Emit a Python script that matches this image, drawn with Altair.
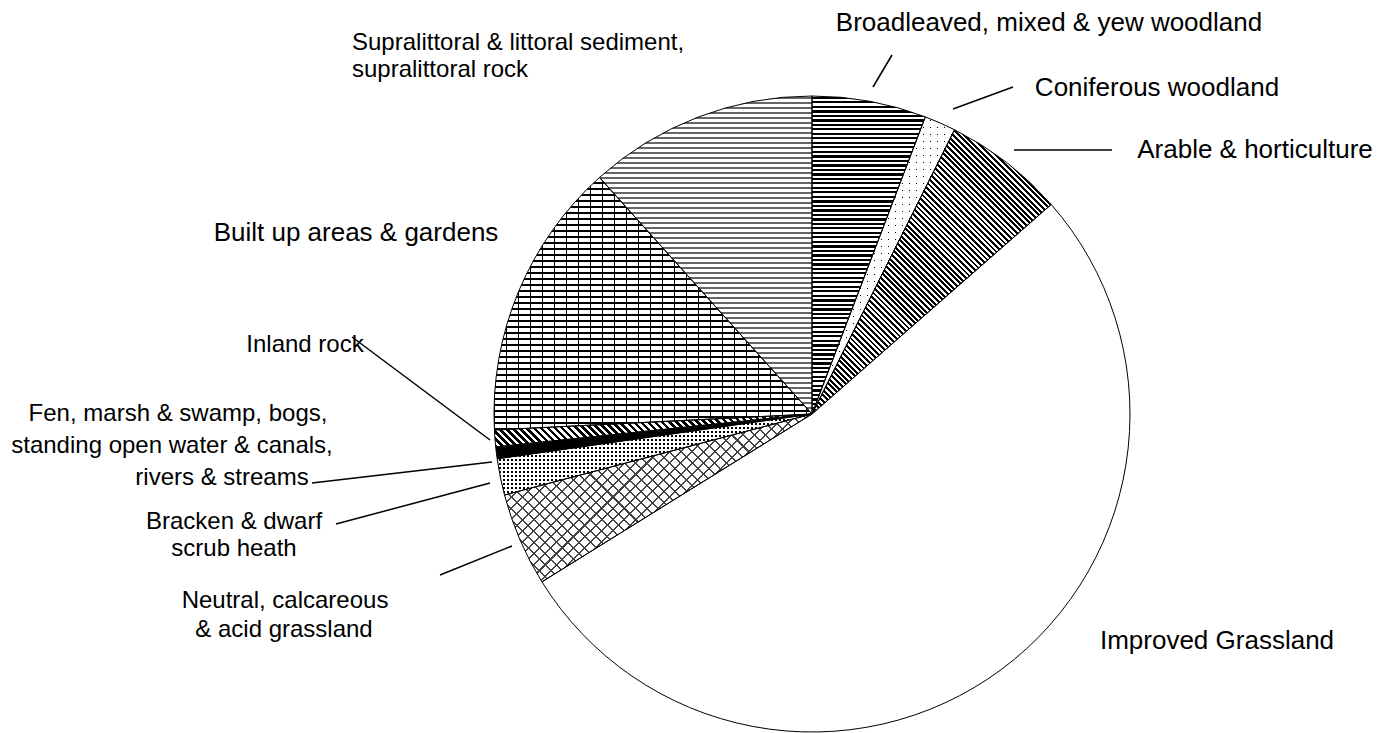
import math
import altair as alt
import pandas as pd

# ---------------- data ----------------
categories = [
    "Broadleaved, mixed & yew woodland",
    "Coniferous woodland",
    "Arable & horticulture",
    "Improved Grassland",
    "Neutral, calcareous & acid grassland",
    "Bracken & dwarf scrub heath",
    "Fen, marsh & swamp, bogs, standing open water & canals, rivers & streams",
    "Inland rock",
    "Built up areas & gardens",
    "Supralittoral & littoral sediment, supralittoral rock",
]
shares = [5.8, 1.6, 6.15, 52.6, 4.75, 1.85, 0.6, 0.85, 14.15, 11.65]

# label lines (text, anchor x, anchor y in page px, font size) and leader lines
label_text = [
    "Broadleaved, mixed & yew woodland", "Coniferous woodland", "Arable & horticulture",
    "Built up areas & gardens", "Inland rock",
    "Fen, marsh & swamp, bogs,", "standing open water & canals,", "rivers & streams",
    "Bracken & dwarf", "scrub heath", "Neutral, calcareous", "& acid grassland",
    "Improved Grassland",
]
label_x = [1049, 1157, 1255, 356, 305, 178, 172, 222, 234, 234, 285, 284, 1217]
label_y = [23, 88, 150, 233, 345, 414, 446, 478, 522, 549, 601, 630, 641]
label_fs = [26, 26, 26, 26, 24, 24, 24, 24, 24, 24, 24, 24, 26]

left_text = ["Supralittoral & littoral sediment,", "supralittoral rock"]
left_x = [352, 352]
left_y = [43, 70]
left_fs = [24, 24]

leader_x1 = [873, 953, 1014, 352, 312, 336, 440]
leader_y1 = [87, 109, 150, 337, 483, 524, 575]
leader_x2 = [892, 1013, 1112, 490, 492, 490, 512]
leader_y2 = [55, 87, 150, 440, 462, 483, 546]

# ---------------- layout / style ----------------
OFF = 8
CX, CY, R = 812 - OFF, 414 - OFF, 318
FONT = "Liberation Sans"


def slice_bbox(a0, a1):
    pts = [(0.0, 0.0)]
    for a in (a0, a1):
        r = math.radians(a)
        pts.append((R * math.sin(r), -R * math.cos(r)))
    for c in (0, 90, 180, 270, 360):
        if a0 < c < a1:
            r = math.radians(c)
            pts.append((R * math.sin(r), -R * math.cos(r)))
    xs = [p[0] for p in pts]
    ys = [p[1] for p in pts]
    return max(xs) - min(xs), max(ys) - min(ys)


def stripes(bw, bh, lx, ly, period, duty, on, off):
    gx, gy = ly / bh, -lx / bw
    corners = [(0, 0), (1, 0), (0, 1), (1, 1)]
    ts = [c[0] * gx + c[1] * gy for c in corners]
    p1 = corners[ts.index(min(ts))]
    pm = corners[ts.index(max(ts))]
    g2 = gx * gx + gy * gy
    s = ((pm[0] - p1[0]) * gx + (pm[1] - p1[1]) * gy) / g2
    x2, y2 = p1[0] + s * gx, p1[1] + s * gy
    L = math.hypot(lx, ly)
    nx, ny = -ly / L, lx / L
    E = abs(bw * nx) + abs(bh * ny)
    step = period / E
    stops = []
    t = 0.0
    while t < 1:
        b = min(t + duty * step, 1)
        c = min(t + step, 1)
        stops += [(t, on), (b, on), (b, off), (c, off)]
        t += step
    return {
        "gradient": "linear",
        "x1": p1[0], "y1": p1[1], "x2": x2, "y2": y2,
        "stops": [{"offset": round(o, 5), "color": col} for o, col in stops],
    }


T = "rgba(255,255,255,0)"


def patterns(name, bw, bh):
    if name.startswith("Broadleaved"):
        return [stripes(bw, bh, 1, 0, 4.5, 0.5, "black", "white")]
    if name.startswith("Coniferous"):
        return ["black",
                stripes(bw, bh, 1, 0, 7, 0.82, "white", T),
                stripes(bw, bh, 0, 1, 7, 0.82, "white", T)]
    if name.startswith("Arable"):
        return [stripes(bw, bh, 1, 1, 4, 0.5, "black", "white")]
    if name.startswith("Improved"):
        return ["white"]
    if name.startswith("Neutral"):
        return ["white",
                stripes(bw, bh, 1, 1, 8, 0.18, "#444", T),
                stripes(bw, bh, 1, -1, 8, 0.18, "#444", T)]
    if name.startswith("Bracken"):
        return ["black",
                stripes(bw, bh, 1, 0, 4, 0.42, "white", T),
                stripes(bw, bh, 0, 1, 4, 0.42, "white", T)]
    if name.startswith("Fen"):
        return ["black"]
    if name.startswith("Inland"):
        return [stripes(bw, bh, 1, 1, 5, 0.5, "black", "white")]
    if name.startswith("Built"):
        return ["white",
                stripes(bw, bh, 1, 0, 6, 0.3, "black", T),
                stripes(bw, bh, 0, 1, 12, 0.12, "black", T)]
    return [stripes(bw, bh, 1, 0, 5, 0.4, "#666", "white")]


df = pd.DataFrame({"category": categories, "share": shares, "order": list(range(len(shares)))})

base = (
    alt.Chart(df)
    .transform_window(cum="sum(share)", sort=[alt.SortField("order")], frame=[None, 0])
    .transform_joinaggregate(total="sum(share)")
    .transform_calculate(t0="(datum.cum - datum.share) / datum.total", t1="datum.cum / datum.total")
)

theta = alt.Theta("t0:Q", scale=alt.Scale(domain=[0, 1], range=[0, 2 * math.pi]), stack=None)
enc = dict(theta=theta, theta2="t1:Q", x=alt.value(CX), y=alt.value(CY))

total = sum(shares)
layers = []
cum = 0.0
for name, s in zip(categories, shares):
    a0 = cum / total * 360
    cum += s
    a1 = cum / total * 360
    bw, bh = slice_bbox(a0, a1)
    for f in patterns(name, bw, bh):
        layers.append(
            base.transform_filter(alt.datum.category == name)
            .mark_arc(outerRadius=R, fill=f, strokeWidth=0)
            .encode(**enc)
        )

layers.append(
    base.mark_arc(outerRadius=R, fill="white", fillOpacity=0, stroke="black", strokeWidth=1).encode(**enc)
)

leaders = pd.DataFrame({
    "x1": [v - OFF for v in leader_x1], "y1": [v - OFF for v in leader_y1],
    "x2": [v - OFF for v in leader_x2], "y2": [v - OFF for v in leader_y2],
})
layers.append(
    alt.Chart(leaders).mark_rule(color="black", strokeWidth=1.5).encode(
        x=alt.X("x1:Q", scale=None, axis=None), y=alt.Y("y1:Q", scale=None, axis=None),
        x2="x2:Q", y2="y2:Q",
    )
)

labels = pd.DataFrame({"text": label_text, "x": [v - OFF for v in label_x],
                       "y": [v - OFF for v in label_y], "fs": label_fs})
layers.append(
    alt.Chart(labels).mark_text(font=FONT, align="center", baseline="middle", color="black").encode(
        x=alt.X("x:Q", scale=None, axis=None), y=alt.Y("y:Q", scale=None, axis=None),
        text="text:N", size=alt.Size("fs:Q", scale=None, legend=None),
    )
)
lefts = pd.DataFrame({"text": left_text, "x": [v - OFF for v in left_x],
                      "y": [v - OFF for v in left_y], "fs": left_fs})
layers.append(
    alt.Chart(lefts).mark_text(font=FONT, align="left", baseline="middle", color="black").encode(
        x=alt.X("x:Q", scale=None, axis=None), y=alt.Y("y:Q", scale=None, axis=None),
        text="text:N", size=alt.Size("fs:Q", scale=None, legend=None),
    )
)

chart = (
    alt.layer(*layers)
    .properties(width=1374, height=725, padding=0, background="white",
                autosize=alt.AutoSizeParams(type="none"))
    .configure_view(stroke=None)
)

chart.save("out.html", embed_options={"renderer": "svg", "actions": False})
